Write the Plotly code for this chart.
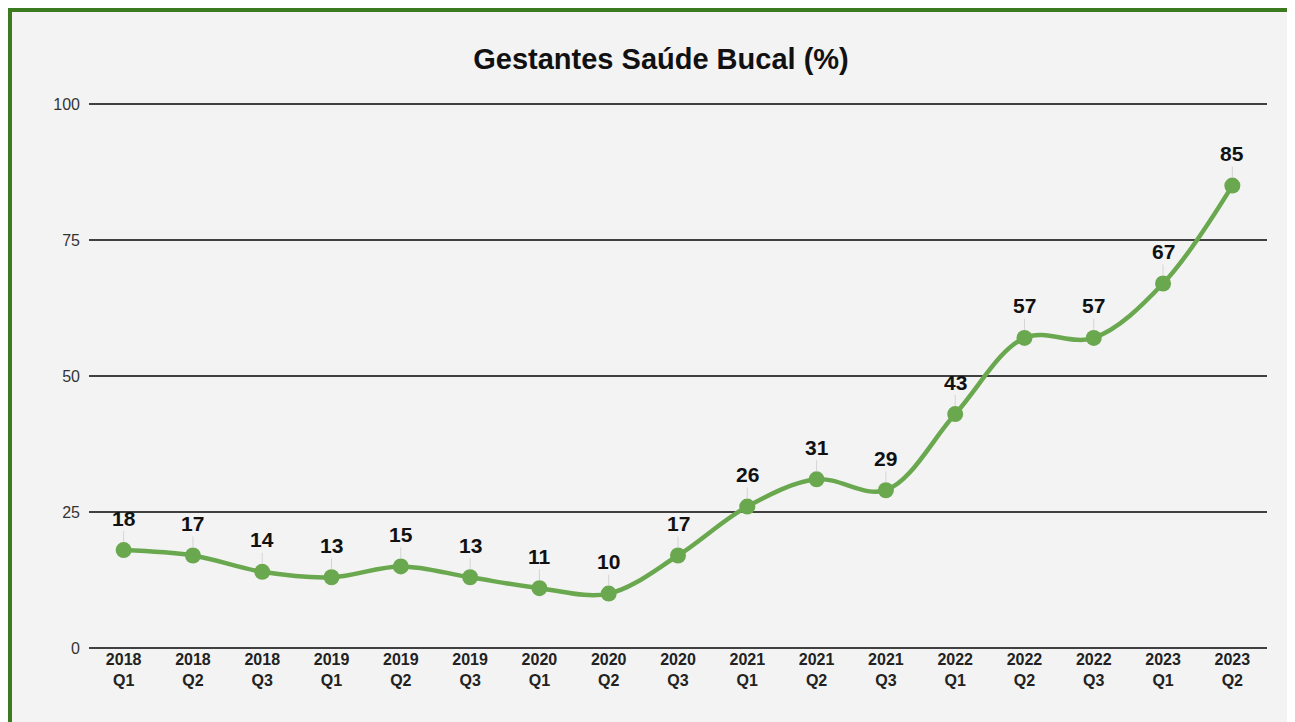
import plotly.graph_objects as go

categories = ["2018<br>Q1", "2018<br>Q2", "2018<br>Q3", "2019<br>Q1", "2019<br>Q2", "2019<br>Q3",
              "2020<br>Q1", "2020<br>Q2", "2020<br>Q3", "2021<br>Q1", "2021<br>Q2", "2021<br>Q3",
              "2022<br>Q1", "2022<br>Q2", "2022<br>Q3", "2023<br>Q1", "2023<br>Q2"]
values = [18, 17, 14, 13, 15, 13, 11, 10, 17, 26, 31, 29, 43, 57, 57, 67, 85]
y_ticks = [0, 25, 50, 75, 100]

GREEN = "#6aa84f"
FONT = "Liberation Sans, Arial, sans-serif"
# page has an 8px body margin, so the figure is drawn 8px smaller and shifted
W, H = 1287, 714
ML, MR, MB = 81, 28, 74
MT = 93
pw, ph = W - ML - MR, H - MT - MB
px_per_unit = (H - MB - 96) / 100.0
ytop = 100 + (96 - MT) / px_per_unit

fig = go.Figure()
fig.add_trace(go.Scatter(
    x=categories, y=values, mode="lines+markers",
    line=dict(color=GREEN, width=4.5, shape="spline", smoothing=1.0),
    marker=dict(color=GREEN, size=16),
    hoverinfo="skip", showlegend=False,
))

annotations = []
for c, v in zip(categories, values):
    annotations.append(dict(
        x=c, y=v, xref="x", yref="y", text=f"<b>{v}</b>",
        showarrow=True, ax=0, ay=-32, arrowhead=0, arrowwidth=1,
        arrowcolor="#d4d4d4", standoff=8,
        font=dict(family=FONT, size=21, color="#111111"),
    ))

# frame rectangle (green border left/top)
fx0 = (2 - ML) / pw
fy1 = (H - MB - 2) / ph
shapes = [dict(type="rect", xref="paper", yref="paper", x0=fx0, x1=1.2, y0=-0.5, y1=fy1,
               fillcolor="#f3f3f3", line=dict(color="#3b7a1f", width=4), layer="below")]

fig.update_layout(
    width=W, height=H,
    margin=dict(l=ML, r=MR, t=MT, b=MB),
    paper_bgcolor="#eef5ea", plot_bgcolor="rgba(0,0,0,0)",
    title=dict(text="<b>Gestantes Saúde Bucal (%)</b>", x=653 / W, xanchor="center",
               y=1 - 51 / H, yanchor="middle",
               font=dict(family=FONT, size=29, color="#111111")),
    font=dict(family=FONT),
    annotations=annotations, shapes=shapes,
)
fig.update_xaxes(type="category", range=[-0.5, len(categories) - 0.5], showgrid=False,
                 showline=False, zeroline=False, ticks="",
                 tickfont=dict(size=16, color="#222222", family=FONT, weight="bold"))
fig.update_yaxes(range=[0, ytop], tickvals=y_ticks, showgrid=True, gridcolor="#404040", gridwidth=1.5,
                 zeroline=True, zerolinecolor="#404040", zerolinewidth=1.5, showline=False, ticks="",
                 ticklabelstandoff=8,
                 tickfont=dict(size=16, color="#333333", family=FONT))

fig.write_html("out.html")
